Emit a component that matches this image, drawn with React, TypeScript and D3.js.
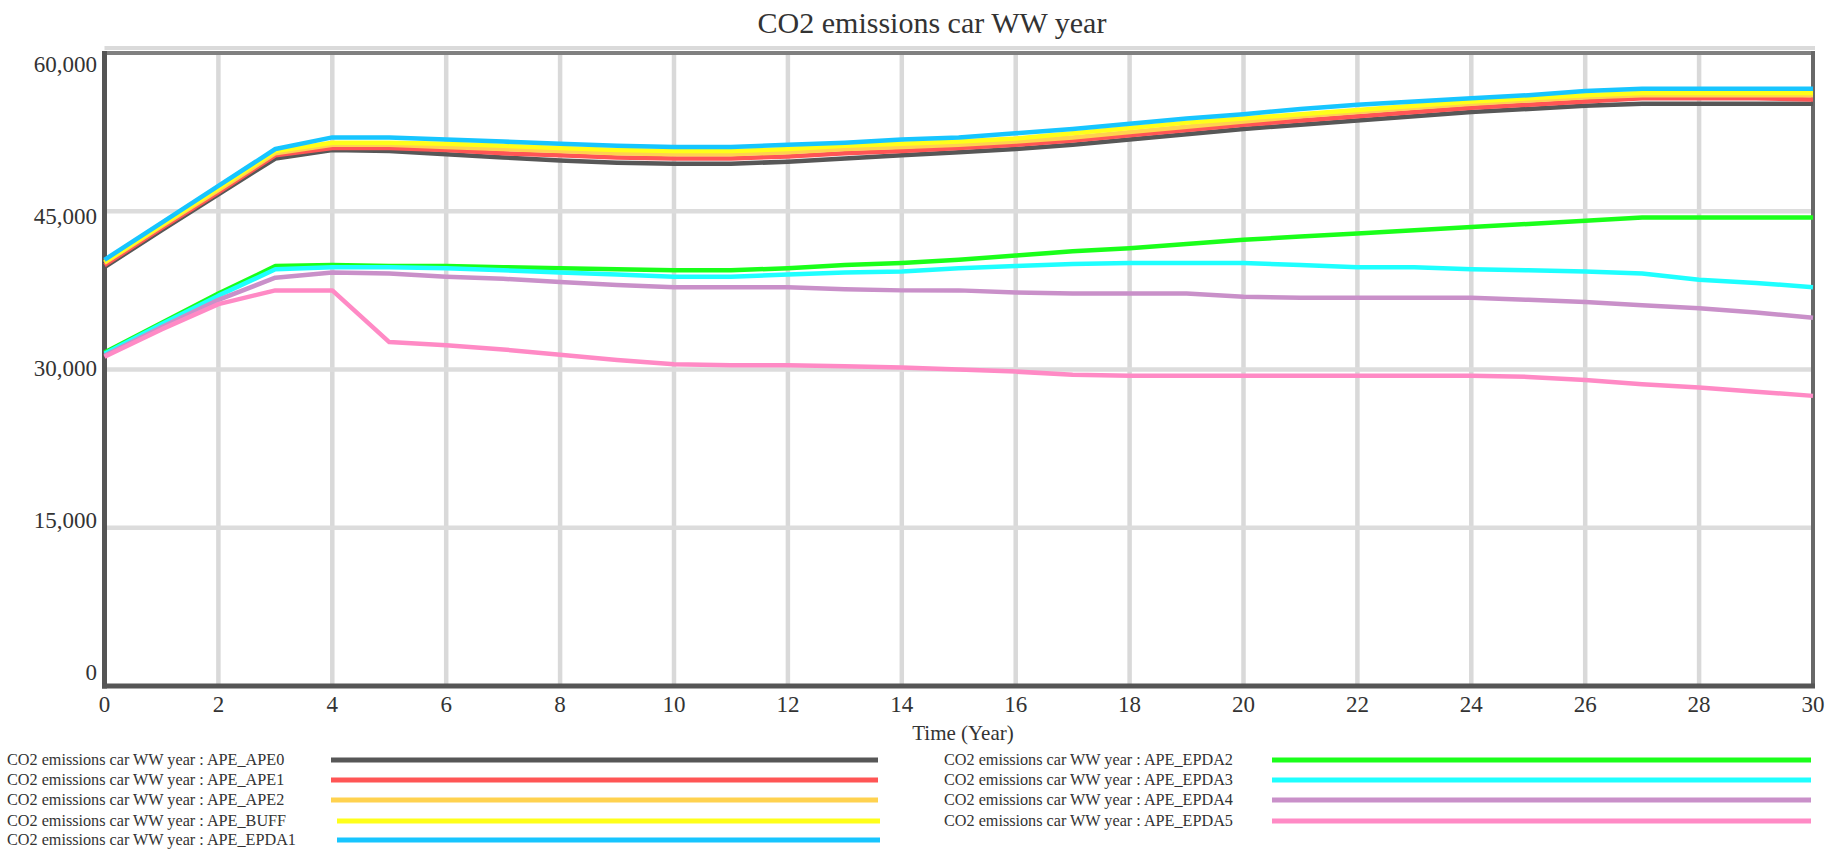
import React from "react";
import * as d3 from "d3";

// Simulation time axis (years)
const years = [0, 1, 2, 3, 4, 5, 6, 7, 8, 9, 10, 11, 12, 13, 14, 15, 16, 17, 18, 19, 20, 21, 22, 23, 24, 25, 26, 27, 28, 29, 30];
const xTicks = [0, 2, 4, 6, 8, 10, 12, 14, 16, 18, 20, 22, 24, 26, 28, 30];
const yTicks = [0, 15000, 30000, 45000, 60000];
const yGrid = [15000, 30000, 45000];

const chartTitle = "CO2 emissions car WW year";
const xAxisTitle = "Time (Year)";

// CO2 emissions car WW year, one array per scenario run
const apeApe0 = [39700, 43200, 46600, 50000, 50800, 50700, 50400, 50100, 49800, 49600, 49500, 49500, 49700, 50000, 50300, 50600, 50900, 51300, 51800, 52300, 52800, 53200, 53600, 54000, 54400, 54700, 55000, 55200, 55200, 55200, 55200];
const apeApe1 = [39900, 43400, 46800, 50300, 51000, 51000, 50800, 50500, 50300, 50100, 50000, 50000, 50200, 50500, 50700, 51000, 51300, 51700, 52200, 52700, 53200, 53600, 54000, 54400, 54800, 55100, 55400, 55700, 55700, 55700, 55600];
const apeApe2 = [40100, 43600, 47000, 50500, 51300, 51300, 51100, 50900, 50700, 50500, 50400, 50400, 50600, 50900, 51100, 51300, 51600, 52000, 52500, 53000, 53500, 54000, 54400, 54800, 55200, 55500, 55800, 56000, 56000, 56000, 56000];
const apeBuff = [40200, 43700, 47200, 50700, 51500, 51500, 51400, 51200, 51000, 50800, 50700, 50700, 50900, 51200, 51400, 51600, 51900, 52400, 52900, 53400, 53800, 54200, 54600, 55000, 55400, 55700, 56000, 56200, 56200, 56200, 56200];
const apeEpda1 = [40400, 43900, 47400, 50900, 52000, 52000, 51800, 51600, 51400, 51200, 51100, 51100, 51300, 51500, 51800, 52000, 52400, 52800, 53300, 53800, 54200, 54700, 55100, 55400, 55700, 56000, 56400, 56600, 56600, 56600, 56600];
const apeEpda2 = [31600, 34400, 37200, 39800, 39900, 39800, 39800, 39700, 39600, 39500, 39400, 39400, 39600, 39900, 40100, 40400, 40800, 41200, 41500, 41900, 42300, 42600, 42900, 43200, 43500, 43800, 44100, 44400, 44400, 44400, 44400];
const apeEpda3 = [31500, 34300, 37000, 39500, 39700, 39700, 39600, 39400, 39200, 39000, 38800, 38800, 39000, 39200, 39300, 39600, 39800, 40000, 40100, 40100, 40100, 39900, 39700, 39700, 39500, 39400, 39300, 39100, 38500, 38200, 37800];
const apeEpda4 = [31300, 34000, 36600, 38700, 39200, 39100, 38800, 38600, 38300, 38000, 37800, 37800, 37800, 37600, 37500, 37500, 37300, 37200, 37200, 37200, 36900, 36800, 36800, 36800, 36800, 36600, 36400, 36100, 35800, 35400, 34900];
const apeEpda5 = [31200, 33800, 36200, 37500, 37500, 32600, 32300, 31900, 31400, 30900, 30500, 30400, 30400, 30300, 30200, 30000, 29800, 29500, 29400, 29400, 29400, 29400, 29400, 29400, 29400, 29300, 29000, 28600, 28300, 27900, 27500];

const seriesValues = [apeApe0, apeApe1, apeApe2, apeBuff, apeEpda1, apeEpda2, apeEpda3, apeEpda4, apeEpda5];
const seriesLabels = [
  "CO2 emissions car WW year : APE_APE0",
  "CO2 emissions car WW year : APE_APE1",
  "CO2 emissions car WW year : APE_APE2",
  "CO2 emissions car WW year : APE_BUFF",
  "CO2 emissions car WW year : APE_EPDA1",
  "CO2 emissions car WW year : APE_EPDA2",
  "CO2 emissions car WW year : APE_EPDA3",
  "CO2 emissions car WW year : APE_EPDA4",
  "CO2 emissions car WW year : APE_EPDA5",
];
const seriesColors = ["#575757", "#ff5555", "#ffd24f", "#ffff1a", "#17c5ff", "#1aff1a", "#1effff", "#c990c9", "#ff8ac5"];

// Legend placement: two columns of rows
const legendRows = [
  { textX: 7, lineX0: 331, lineX1: 878, y: 760 },
  { textX: 7, lineX0: 331, lineX1: 878, y: 780 },
  { textX: 7, lineX0: 331, lineX1: 878, y: 800 },
  { textX: 7, lineX0: 337, lineX1: 880, y: 821 },
  { textX: 7, lineX0: 337, lineX1: 880, y: 840 },
  { textX: 944, lineX0: 1272, lineX1: 1811, y: 760 },
  { textX: 944, lineX0: 1272, lineX1: 1811, y: 780 },
  { textX: 944, lineX0: 1272, lineX1: 1811, y: 800 },
  { textX: 944, lineX0: 1272, lineX1: 1811, y: 821 },
];

const FONT = "'Liberation Serif', 'Times New Roman', serif";

export default function App() {
  const W = 1829;
  const H = 849;
  const left = 104.5;
  const right = 1813;
  const top = 53;
  const bottom = 686;

  const x = d3.scaleLinear().domain([0, 30]).range([left, right]);
  const y = d3.scaleLinear().domain([0, 60000]).range([bottom, top]);
  // tick labels are spread evenly but kept inside the frame
  const yLabel = d3.scaleLinear().domain([0, 60000]).range([680, 72]);

  const line = d3
    .line<number>()
    .x((_, i) => x(years[i]))
    .y((v) => y(v));

  const fmt = d3.format(",");

  return (
    <svg
      width={W}
      height={H}
      viewBox={`0 0 ${W} ${H}`}
      style={{ position: "absolute", left: 0, top: 0, background: "#ffffff" }}
    >
      <rect x={0} y={0} width={W} height={H} fill="#ffffff" />

      {/* title */}
      <text x={932} y={33} textAnchor="middle" fontFamily={FONT} fontSize={30} fill="#333">
        {chartTitle}
      </text>

      {/* grid */}
      {xTicks.slice(1, -1).map((t) => (
        <line key={"vx" + t} x1={x(t)} x2={x(t)} y1={top} y2={bottom} stroke="#d9d9d9" strokeWidth={4.5} />
      ))}
      {yGrid.map((v) => (
        <line key={"hy" + v} x1={left} x2={right} y1={y(v)} y2={y(v)} stroke="#dcdcdc" strokeWidth={4.5} />
      ))}

      {/* frame */}
      <line x1={left} x2={right + 2} y1={top - 5} y2={top - 5} stroke="#dadada" strokeWidth={4} />
      <line x1={left} x2={right + 2} y1={top} y2={top} stroke="#808080" strokeWidth={4} />
      <line x1={right} x2={right} y1={top - 2} y2={bottom} stroke="#686868" strokeWidth={4} />
      <line x1={left} x2={left} y1={top - 2} y2={bottom + 2.5} stroke="#555555" strokeWidth={5} />
      <line x1={left - 2.5} x2={right + 2} y1={bottom} y2={bottom} stroke="#555555" strokeWidth={5} />

      {/* series */}
      {seriesValues.map((vals, i) => (
        <path
          key={"s" + i}
          d={line(vals) || ""}
          fill="none"
          stroke={seriesColors[i]}
          strokeWidth={4.5}
          strokeLinejoin="round"
        />
      ))}

      {/* y axis labels */}
      {yTicks.map((v) => (
        <text key={"yl" + v} x={97} y={yLabel(v)} textAnchor="end" fontFamily={FONT} fontSize={23} fill="#333">
          {fmt(v)}
        </text>
      ))}

      {/* x axis labels */}
      {xTicks.map((t) => (
        <text key={"xl" + t} x={x(t)} y={712} textAnchor="middle" fontFamily={FONT} fontSize={23} fill="#333">
          {t}
        </text>
      ))}
      <text x={963} y={740} textAnchor="middle" fontFamily={FONT} fontSize={21} fill="#333">
        {xAxisTitle}
      </text>

      {/* legend */}
      {legendRows.map((r, i) => (
        <g key={"lg" + i}>
          <text x={r.textX} y={r.y + 4.5} fontFamily={FONT} fontSize={16.2} fill="#333">
            {seriesLabels[i]}
          </text>
          <line x1={r.lineX0} x2={r.lineX1} y1={r.y} y2={r.y} stroke={seriesColors[i]} strokeWidth={5} />
        </g>
      ))}
    </svg>
  );
}
